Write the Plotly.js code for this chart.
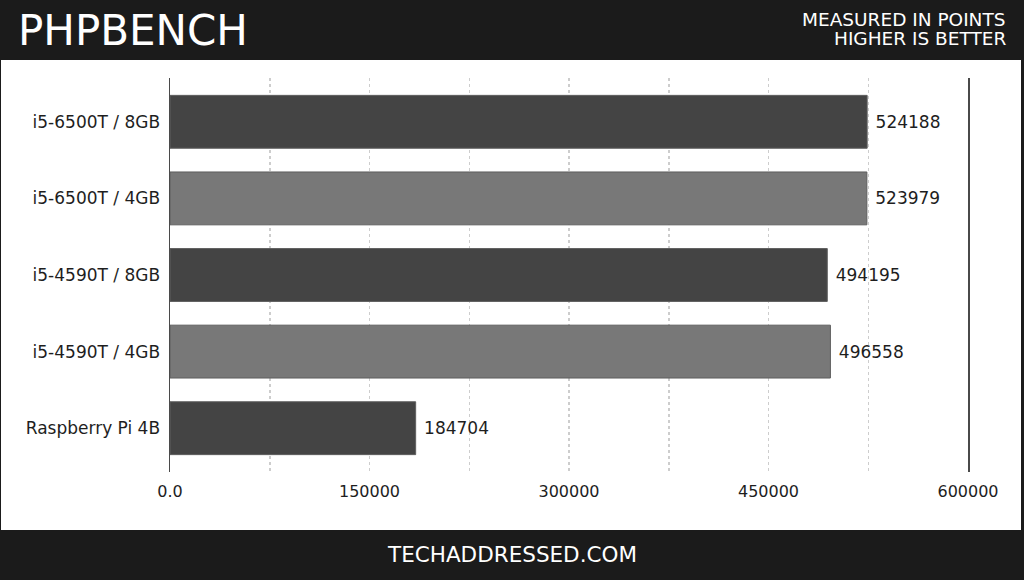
<!DOCTYPE html>
<html><head><meta charset="utf-8">
<script src="https://cdn.plot.ly/plotly-3.0.1.min.js"></script>
<style>html,body{margin:0;padding:0;background:#1b1b1b;}#chart{width:1024px;height:580px;}</style>
</head><body><div id="chart"></div>
<script>
const categories = ["i5-6500T / 8GB", "i5-6500T / 4GB", "i5-4590T / 8GB", "i5-4590T / 4GB", "Raspberry Pi 4B"];
const scores = [524188, 523979, 494195, 496558, 184704];
const barColors = ["#444444", "#787878", "#444444", "#787878", "#444444"];
const tickValues = [0, 150000, 300000, 450000, 600000];
const tickLabels = ["0.0", "150000", "300000", "450000", "600000"];
const chartTitle = "PHPBENCH";
const subtitleLines = ["MEASURED IN POINTS", "HIGHER IS BETTER"];
const footerText = "TECHADDRESSED.COM";

const W = 1024, H = 580;
const mL = 170, mR = 56, mT = 78, mB = 108;
const pw = W - mL - mR, ph = H - mT - mB;
const px = x => (x - mL) / pw;
const py = y => (H - mB - y) / ph;
const FONT = "DejaVu Sans, sans-serif";

const trace = {
  type: "bar", orientation: "h",
  y: categories, x: scores,
  marker: {color: barColors, line: {color: "#5e5e5e", width: 1}},
  width: 0.69,
  text: scores.map(v => " " + v), textposition: "outside",
  textfont: {family: FONT, size: 17, color: "#1e1e1e"},
  cliponaxis: false, hoverinfo: "skip"
};

const layout = {
  width: W, height: H,
  margin: {l: mL, r: mR, t: mT, b: mB, pad: 0},
  paper_bgcolor: "#1b1b1b", plot_bgcolor: "rgba(0,0,0,0)",
  showlegend: false,
  font: {family: FONT, color: "#1e1e1e"},
  xaxis: {
    range: [0, 600000], tickvals: tickValues, ticktext: tickLabels,
    showgrid: true, gridcolor: "#cdcdcd", griddash: "dot", gridwidth: 1.5,
    minor: {dtick: 75000, tick0: 0, showgrid: true, gridcolor: "#cdcdcd", griddash: "dot", gridwidth: 1.5},
    zeroline: false, showline: false, ticks: "",
    tickfont: {family: FONT, size: 16, color: "#1e1e1e"}, ticklabelstandoff: 8
  },
  yaxis: {
    range: [4.5717, -0.5717], type: "category",
    showline: true, mirror: true, linecolor: "#4a4a4a", linewidth: 1.5,
    showgrid: false, zeroline: false, ticks: "",
    tickfont: {family: FONT, size: 17, color: "#1e1e1e"}, ticklabelstandoff: 5
  },
  shapes: [
    {type: "rect", xref: "paper", yref: "paper", x0: px(1), x1: px(1021), y0: py(530), y1: py(60),
     fillcolor: "#ffffff", line: {width: 0}, layer: "below"}
  ],
  annotations: [
    {xref: "paper", yref: "paper", x: px(16), y: py(30), xanchor: "left", yanchor: "middle",
     text: chartTitle, showarrow: false, font: {family: FONT, size: 42, color: "#ffffff"}},
    {xref: "paper", yref: "paper", x: px(1008), y: py(19), xanchor: "right", yanchor: "middle",
     text: subtitleLines[0], showarrow: false, font: {family: FONT, size: 18.5, color: "#ffffff"}},
    {xref: "paper", yref: "paper", x: px(1008), y: py(39), xanchor: "right", yanchor: "middle",
     text: subtitleLines[1], showarrow: false, font: {family: FONT, size: 18.5, color: "#ffffff"}},
    {xref: "paper", yref: "paper", x: px(512), y: py(554), xanchor: "center", yanchor: "middle",
     text: footerText, showarrow: false, font: {family: FONT, size: 21.5, color: "#ffffff"}}
  ]
};

Plotly.newPlot("chart", [trace], layout, {staticPlot: true, displayModeBar: false});
</script>
</body></html>
